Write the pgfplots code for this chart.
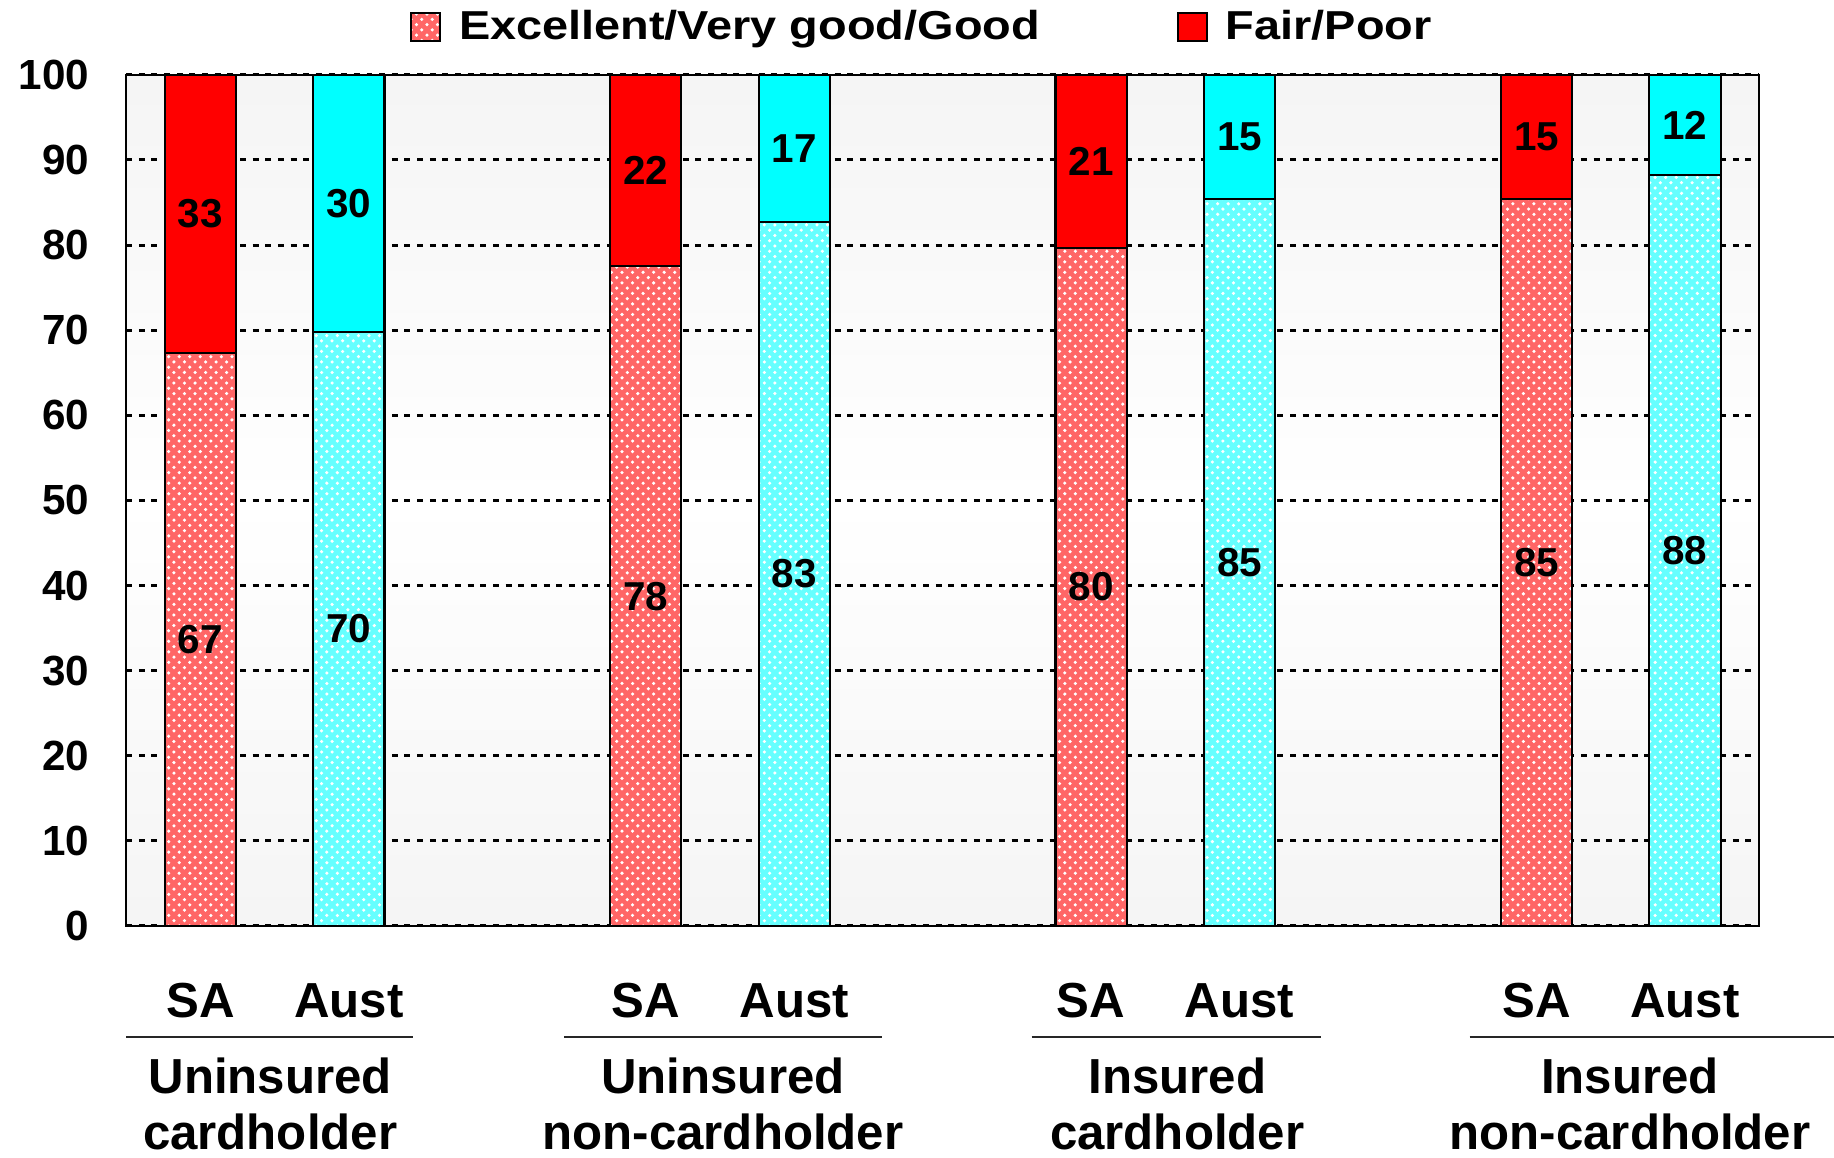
\documentclass[border=0pt]{standalone}
\usepackage{fontspec}
\setmainfont{Liberation Sans}
\usepackage{graphicx}
\usepackage{pgfplots}
\pgfplotsset{compat=1.18}
\usepackage{pgfplotstable}
\usetikzlibrary{patterns}

\definecolor{aqua}{RGB}{0,255,255}
\definecolor{pred}{RGB}{255,0,0}

\newcommand\tk{\bfseries\fontsize{12}{14}\selectfont}
\newcommand\cat{\bfseries\fontsize{14}{17}\selectfont}
\newcommand\lab{\bfseries\fontsize{11.5}{13}\selectfont}
\newcommand\leg{\bfseries\fontsize{11.5}{13}\selectfont}

\pgfplotstableread{
x tot b lb lt mb mt
0 100 67.3 67 33 33.65 83.65
3 100 77.5 78 22 38.75 88.75
6 100 79.7 80 21 39.85 89.85
9 100 85.4 85 15 42.7 92.7
}\sa
\pgfplotstableread{
x tot b lb lt mb mt
1 100 69.8 70 30 34.9 84.9
4 100 82.7 83 17 41.35 91.35
7 100 85.4 85 15 42.7 92.7
10 100 88.2 88 12 44.1 94.1
}\au

\tikzset{
  redpat/.style={fill=pred!60!white, postaction={pattern=crosshatch dots, pattern color=white}},
  cyanpat/.style={fill=aqua!60!white, postaction={pattern=crosshatch dots, pattern color=white}},
}

\begin{document}
\begin{tikzpicture}
\begin{axis}[
  scale only axis, width=464.7pt, height=242.2pt,
  xmin=-0.5, xmax=10.5, ymin=0, ymax=100,
  xtick={0,1,3,4,6,7,9,10},
  xticklabels={SA,Aust,SA,Aust,SA,Aust,SA,Aust},
  ytick={0,10,...,100},
  major tick length=0pt,
  ymajorgrids,
  grid style={black, line width=0.85pt, dash pattern=on 1.7pt off 1.9pt},
  axis line style={black, line width=0.6pt},
  axis background/.style={top color=gray!8, bottom color=gray!8, middle color=white},
  clip=false,
  /pgf/number format/assume math mode=true,
  yticklabel style={font=\tk, xshift=-7pt},
  xticklabel style={font=\cat, anchor=base, yshift=-26pt},
  legend columns=2,
  legend style={at={(0.4867,1)}, anchor=center, yshift=13.6pt, draw=none, fill=none,
    font=\leg, nodes={inner sep=0pt},
    /tikz/every odd column/.append style={column sep=5pt},
    /tikz/every even column/.append style={column sep=39pt}},
  legend image code/.code={\draw[#1] (0pt,-3.9pt) rectangle (8.3pt,3.9pt);},
]
\addlegendimage{redpat, draw=black, line width=0.6pt}
\addlegendentry{\scalebox{1.16}[1]{Excellent/Very good/Good}}
\addlegendimage{fill=pred, draw=black, line width=0.6pt}
\addlegendentry{\scalebox{1.16}[1]{Fair/Poor}}

\addplot[ybar, bar width=0.48, bar shift=0pt, fill=pred, draw=black, line width=0.6pt, forget plot] table[x=x, y=tot]{\sa};
\addplot[ybar, bar width=0.48, bar shift=0pt, redpat, draw=black, line width=0.6pt, forget plot] table[x=x, y=b]{\sa};
\addplot[ybar, bar width=0.48, bar shift=0pt, fill=aqua, draw=black, line width=0.6pt, forget plot] table[x=x, y=tot]{\au};
\addplot[ybar, bar width=0.48, bar shift=0pt, cyanpat, draw=black, line width=0.6pt, forget plot] table[x=x, y=b]{\au};

\addplot[draw=none, mark=none, nodes near coords, point meta=explicit symbolic,
  every node near coord/.append style={anchor=center, font=\lab, black}, forget plot]
  table[x=x, y=mb, meta=lb]{\sa};
\addplot[draw=none, mark=none, nodes near coords, point meta=explicit symbolic,
  every node near coord/.append style={anchor=center, font=\lab, black}, forget plot]
  table[x=x, y=mt, meta=lt]{\sa};
\addplot[draw=none, mark=none, nodes near coords, point meta=explicit symbolic,
  every node near coord/.append style={anchor=center, font=\lab, black}, forget plot]
  table[x=x, y=mb, meta=lb]{\au};
\addplot[draw=none, mark=none, nodes near coords, point meta=explicit symbolic,
  every node near coord/.append style={anchor=center, font=\lab, black}, forget plot]
  table[x=x, y=mt, meta=lt]{\au};

\coordinate (bl) at (rel axis cs:0,0);
\coordinate (tr) at (rel axis cs:1,1);

\draw[line width=0.6pt, black!85] ([yshift=-31.6pt]axis cs:-0.5,0) -- ([yshift=-31.6pt]axis cs:1.43,0);
\draw[line width=0.6pt, black!85] ([yshift=-31.6pt]axis cs:2.45,0) -- ([yshift=-31.6pt]axis cs:4.59,0);
\draw[line width=0.6pt, black!85] ([yshift=-31.6pt]axis cs:5.6,0) -- ([yshift=-31.6pt]axis cs:7.55,0);
\draw[line width=0.6pt, black!85] ([yshift=-31.6pt]axis cs:8.55,0) -- ([yshift=-31.6pt]axis cs:11.2,0);

\node[anchor=base, font=\cat, inner sep=0pt] at ([yshift=-47.6pt]axis cs:0.47,0) {Uninsured};
\node[anchor=base, font=\cat, inner sep=0pt] at ([yshift=-63.6pt]axis cs:0.47,0) {cardholder};
\node[anchor=base, font=\cat, inner sep=0pt] at ([yshift=-47.6pt]axis cs:3.52,0) {Uninsured};
\node[anchor=base, font=\cat, inner sep=0pt] at ([yshift=-63.6pt]axis cs:3.52,0) {non-cardholder};
\node[anchor=base, font=\cat, inner sep=0pt] at ([yshift=-47.6pt]axis cs:6.58,0) {Insured};
\node[anchor=base, font=\cat, inner sep=0pt] at ([yshift=-63.6pt]axis cs:6.58,0) {cardholder};
\node[anchor=base, font=\cat, inner sep=0pt] at ([yshift=-47.6pt]axis cs:9.63,0) {Insured};
\node[anchor=base, font=\cat, inner sep=0pt] at ([yshift=-63.6pt]axis cs:9.63,0) {non-cardholder};
\end{axis}
\pgfresetboundingbox
\path[use as bounding box] ([xshift=-35.9pt,yshift=-66pt]bl) rectangle ([xshift=21.3pt,yshift=21.3pt]tr);
\end{tikzpicture}
\end{document}
